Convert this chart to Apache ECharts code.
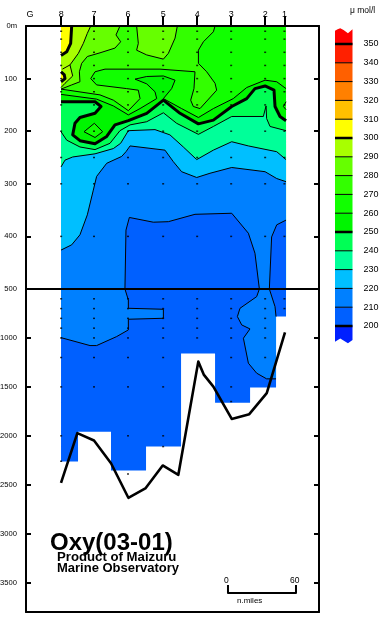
<!DOCTYPE html>
<html><head><meta charset="utf-8">
<style>html,body{margin:0;padding:0;background:#fff}#c{width:381px;height:618px}</style>
<script src="https://cdn.jsdelivr.net/npm/echarts@6/dist/echarts.min.js"></script>
</head><body><div id="c"></div>
<script>
// Station positions along the section (n.miles) and station names
const stationNames = ['8','7','6','5','4','3','2','1'];
const stationDist = [31,60,90,121,151,181,211,228];
const gLabelDist = 3.5;
const upperDepthTicks = [0,100,200,300,400,500];
const lowerDepthTicks = [1000,1500,2000,2500,3000,3500];
// Sampling depths (m)
const standardDepths = [10,25,50,75,100,125,150,200,250,300,400,500,600,700,800,900,1000,1200,1500,2000];
const lastCast = [2260,1960,2390,2110,1150,1650,1200,780];
const extraCast = [2260,null,2390,2110,null,1650,null,null];
// Bottom topography [n.miles, depth m]
const bathymetry = [[30.9,2480],[45.3,1973],[60,2048],[75,2280],[90.3,2633],[105.3,2538],[120.6,2303],[134.4,2398],[152,1242],[157,1378],[165.3,1497],[181.5,1827],[197,1779],[212.4,1564],[228.5,942]];
// Data coverage (stepped lower limit of contouring) [n.miles, depth m]
const coverage = [[30.9,500],[229.4,500],[229.4,780],[220.6,780],[220.6,1507],[197.7,1507],[197.7,1663],[166.8,1663],[166.8,1160],[136.8,1160],[136.8,2109],[105.9,2109],[105.9,2354],[75,2354],[75,1959],[45.9,1959],[45.9,2262],[30.9,2262]];
// Contours read from the section [n.miles, depth m]
const c300a = [[40.3,0],[39.4,33],[35.9,49],[30.9,56]];
const c300b = [[30.9,87],[33.8,93],[34.4,100],[30.9,106]];
const c290a = [[57.1,0],[54.1,14],[50.6,33],[46.2,52],[38.8,74],[32.1,82]];
const c290b = [[38.8,74],[41.2,95],[34.4,109],[30.9,117]];
const c280a = [[82.9,0],[79.4,17],[83.5,30],[78.5,42],[65.3,51],[54.1,58],[49.1,71],[47.1,87],[47.6,106],[40.3,112],[30.9,120]];
const c280b = [[97.6,0],[99.1,33],[97.6,46],[106.5,55],[121.2,63],[125.6,52],[131.5,23],[133.5,0]];
const c270 = [[30.9,120],[65.3,131],[77.1,141],[90.3,161],[100.6,138],[99.1,122],[88.8,119],[62.3,112],[57.1,100],[60.9,87],[69.7,82],[118.2,82],[149.1,87],[148.2,119],[145.3,141],[147.6,153],[153.5,157],[168.2,122],[166.8,109],[159.4,87],[152.1,71],[152.1,46],[156.5,30],[165.3,11],[166.8,0]];
const c260 = [[30.9,130],[62.3,139],[77.1,152],[90.3,169],[100.6,157],[115.3,138],[113.8,125],[106.5,110],[96.2,101],[106.5,96],[121.2,95],[131.5,103],[128.5,119],[121.2,138],[137.3,157],[152.1,174],[165.3,157],[182.9,138],[194.7,117],[210.9,103],[221.2,106],[229.4,119]];
const c260loop = [[51.2,201],[60.3,185],[67.6,201],[60.9,212],[51.2,201]];
const c260edge = [[229.4,144],[227.1,153],[229.4,159]];
const c250 = [[30.9,144],[60.9,144],[66.2,153],[60.9,166],[47.6,174],[43.2,185],[41.2,207],[47.6,218],[60.9,224],[71.2,210],[78.5,188],[90.3,180],[106.5,166],[121.2,141],[135.9,166],[152.1,186],[165.3,179],[181.5,153],[194.7,138],[202,119],[210.9,114],[218.8,122],[219.7,153],[224.1,172],[229.4,180]];
const c240 = [[30.9,201],[35.9,217],[47.6,230],[60.9,235],[74.1,223],[82.9,199],[91.8,188],[106.5,182],[121.2,165],[132.9,185],[152.1,206],[165.3,191],[181.5,172],[209.4,172],[211.8,152],[212.3,176],[215.3,191],[229.4,199]];
const c230 = [[30.9,268],[34.4,255],[41.2,249],[60.9,243],[77.1,233],[83.5,223],[90.3,199],[113.8,197],[127,207],[138.8,230],[150.6,254],[165.3,236],[181.5,220],[196.2,228],[221.2,239],[229.4,254]];
const c220 = [[30.9,426],[40.3,416],[47.6,397],[54.1,359],[59.4,312],[62.3,286],[71.2,261],[84.4,248],[88.2,239],[91.8,228],[122.6,236],[130,258],[137.3,277],[150.6,288],[162.3,280],[181.5,269],[210.9,277],[221.2,290],[229.4,296]];
const c210upA = [[87.3,500],[88.2,388],[91.2,364],[112.3,373],[125.6,372],[149.1,358],[181.5,356],[196.2,394],[202,432],[205.9,500]];
const c210upB = [[214.7,500],[216.7,401],[221.2,378],[229.4,369]];
const c220lowA = [[87.3,500],[90.3,612],[90.3,697],[121.2,707],[121.2,799],[90.3,809],[90.3,918],[80,986],[62.3,1078],[56.5,1078],[30.9,997]];
const c220lowB = [[205.9,500],[203.5,578],[188.8,697],[186.5,782],[190.3,867],[197.6,908],[191.8,1003],[196.2,1258],[203.5,1360],[212.3,1418],[220.6,1418]];
const c220lowC = [[214.7,500],[219.7,680],[220.6,782]];
// Colour scale
const levels = [200,210,220,230,240,250,260,270,280,290,300,310,320,330,340,350];
const bandColors = ['#0020ff','#0060ff','#0080ff','#00bfff','#00ff99','#00ff55','#00f500','#11ff00','#33ff00','#66ff00','#a8ff00','#ffff00','#ffc000','#ff8000','#ff6000','#ff2000','#ff0000'];
const waveTop = [[0,357.1],[0.15,357.8],[0.3,358.4],[0.49,357.4],[0.74,355.7],[1,357.8]];
const waveBottom = [[0,191.6],[0.3,193.4],[0.74,190.8],[1,192.6]];
// Scale bar [n.miles, depth m]
const scaleBar = [[178.2,3524],[178.2,3606],[238.2,3606],[238.2,3524]];

const [L,R,T,B] = [30.9,229.4,0,500];
const col = v => bandColors[levels.filter(l=>l<=v).length];
const series = [];
function fill(pts, color, grid){
  series.push({type:'custom',silent:true,animation:false,clip:false,xAxisIndex:grid.x,yAxisIndex:grid.y,data:[[pts[0][0],pts[0][1]]],
    renderItem:(p,api)=>({type:'polygon',shape:{points:pts.map(q=>api.coord(q))},style:{fill:color}})});
}
function line(pts, w, grid){
  series.push({type:'line',silent:true,animation:false,symbol:'none',clip:false,xAxisIndex:grid.x,yAxisIndex:grid.y,data:pts,lineStyle:{color:'#000',width:w,join:'round'}});
}
const U={x:0,y:0}, D={x:2,y:2}, S={x:4,y:4};
// Upper panel fills, painted from the surface layers down
fill([[L,T],[R,T],[R,B],[L,B]], col(275), U);
fill([[L,T],...c280a], col(285), U);
fill(c280b, col(285), U);
fill([[L,T],...c290a.slice(0,5),...c290b.slice(1)], col(295), U);
fill([[L,T],...c300a], col(305), U);
fill(c300b, col(305), U);
fill([...c270,[R,T],[R,B],[L,B]], col(265), U);
fill([...c260,[R,B],[L,B]], col(255), U);
fill(c260loop, col(265), U);
fill(c260edge, col(265), U);
fill([...c250,[R,B],[L,B]], col(245), U);
fill([...c240,[R,B],[L,B]], col(235), U);
fill([...c230,[R,B],[L,B]], col(225), U);
fill([...c220,[R,B],[L,B]], col(215), U);
fill(c210upA, col(205), U);
fill([...c210upB,[R,B]], col(205), U);
// Lower panel fills
fill(coverage, col(205), D);
fill([[L,B],...c220lowA], col(215), D);
fill([...c220lowB,[220.6,780],[219.7,680],[214.7,500]], col(215), D);
// Contour lines
[c290a,c290b,c280a,c280b,c270,c260,c260loop,c260edge,c240,c230,c220,c210upA,c210upB].forEach(c=>line(c,1,U));
[c300a,c300b,c250].forEach(c=>line(c,3,U));
[c220lowA,c220lowB,c220lowC].forEach(c=>line(c,1,D));
// Sampling dots
const dots = [];
stationDist.forEach((x,i)=>{
  standardDepths.forEach(d=>{ if(d<=lastCast[i]) dots.push([x,d]); });
  if(extraCast[i]) dots.push([x,extraCast[i]]);
});
const dotStyle={type:'scatter',silent:true,animation:false,symbol:'rect',symbolSize:[2,1.5],itemStyle:{color:'#000'}};
series.push({...dotStyle,xAxisIndex:0,yAxisIndex:0,data:dots.filter(d=>d[1]<=500)});
series.push({...dotStyle,xAxisIndex:2,yAxisIndex:2,data:dots.filter(d=>d[1]>500)});
// Bottom profile and scale bar
line(bathymetry,2.6,D);
line(scaleBar,2,D);
// Colour bar
const edges=[...levels];
bandColors.forEach((c,i)=>{
  let pts;
  if(i===0) pts=[[0,edges[0]],[1,edges[0]],...waveBottom.slice().reverse()];
  else if(i===bandColors.length-1) pts=[[0,edges[i-1]],[1,edges[i-1]],...waveTop.slice().reverse()];
  else pts=[[0,edges[i-1]],[1,edges[i-1]],[1,edges[i]],[0,edges[i]]];
  fill(pts,c,S);
});
levels.forEach(v=>line([[0,v],[1,v]],v%50===0?2.5:1,S));

const font='"Liberation Sans",Arial,sans-serif';
const hide={show:false};
const lineBlack={show:true,onZero:false,lineStyle:{color:'#000',width:2}};
const mx=258.5;
const xBase={type:'value',min:0,max:mx,splitLine:hide,axisTick:hide,axisLabel:hide,z:5};
const yBase={type:'value',inverse:true,splitLine:hide,z:5};
const tick=(extra)=>({show:true,inside:true,length:5,lineStyle:{color:'#000',width:2},...extra});
const plain=v=>String(v);
const option={
  backgroundColor:'#fff',animation:false,
  grid:[
    {left:26,width:293,top:26,height:263,outerBoundsMode:'none'},
    {left:26,width:293,top:289,height:323,outerBoundsMode:'none'},
    {left:335,width:17.5,top:25.2,height:319.6,outerBoundsMode:'none'}
  ],
  xAxis:[
    {...xBase,gridIndex:0,position:'top',axisLine:lineBlack},
    {...xBase,gridIndex:0,position:'top',offset:6,axisLine:{show:false},
      axisTick:{show:true,customValues:stationDist,length:10,lineStyle:{color:'#000',width:2}},
      axisLabel:{show:true,customValues:[gLabelDist,...stationDist],margin:1,fontFamily:font,fontSize:9,color:'#000',
        formatter:v=>{const i=stationDist.indexOf(v);return i<0?'G':stationNames[i];}}},
    {...xBase,gridIndex:1,position:'bottom',axisLine:lineBlack},
    {...xBase,gridIndex:0,position:'bottom',axisLine:lineBlack},
    {type:'value',gridIndex:2,min:0,max:1,show:false}
  ],
  yAxis:[
    {...yBase,gridIndex:0,position:'left',min:0,max:500,interval:100,axisLine:lineBlack,axisTick:tick({customValues:upperDepthTicks}),
      axisLabel:{show:true,customValues:upperDepthTicks,margin:9,fontFamily:font,fontSize:7.6,color:'#000',formatter:v=>v===0?'0m':plain(v)}},
    {...yBase,gridIndex:0,position:'right',min:0,max:500,interval:100,axisLine:lineBlack,axisTick:tick({customValues:upperDepthTicks}),axisLabel:hide},
    {...yBase,gridIndex:1,position:'left',min:500,max:3800,interval:500,axisLine:lineBlack,axisTick:tick({customValues:lowerDepthTicks}),
      axisLabel:{show:true,customValues:lowerDepthTicks,margin:9,fontFamily:font,fontSize:7.6,color:'#000',formatter:plain}},
    {...yBase,gridIndex:1,position:'right',min:500,max:3800,interval:500,axisLine:lineBlack,axisTick:tick({customValues:lowerDepthTicks}),axisLabel:hide},
    {type:'value',gridIndex:2,position:'right',min:190,max:360,interval:10,splitLine:hide,axisLine:{show:false},axisTick:hide,
      axisLabel:{show:true,customValues:levels,margin:11,fontFamily:font,fontSize:9,color:'#000'}}
  ],
  series,
  graphic:[
    {type:'text',left:50,top:531,style:{text:'Oxy(03-01)',font:'bold 24px '+font,fill:'#000'}},
    {type:'text',left:57,top:551,style:{text:'Product of Maizuru',font:'bold 13.2px '+font,fill:'#000'}},
    {type:'text',left:57,top:562,style:{text:'Marine Observatory',font:'bold 13px '+font,fill:'#000'}},
    {type:'text',left:224,top:576,style:{text:'0',font:'8.5px '+font,fill:'#000'}},
    {type:'text',left:290,top:576,style:{text:'60',font:'8.5px '+font,fill:'#000'}},
    {type:'text',left:237,top:597,style:{text:'n.miles',font:'8px '+font,fill:'#000'}},
    {type:'text',left:350,top:6,style:{text:'μ mol/l',font:'8.5px '+font,fill:'#000'}}
  ]
};
const chart=echarts.init(document.getElementById('c'),null,{renderer:'canvas'});
chart.setOption(option);
</script></body></html>
